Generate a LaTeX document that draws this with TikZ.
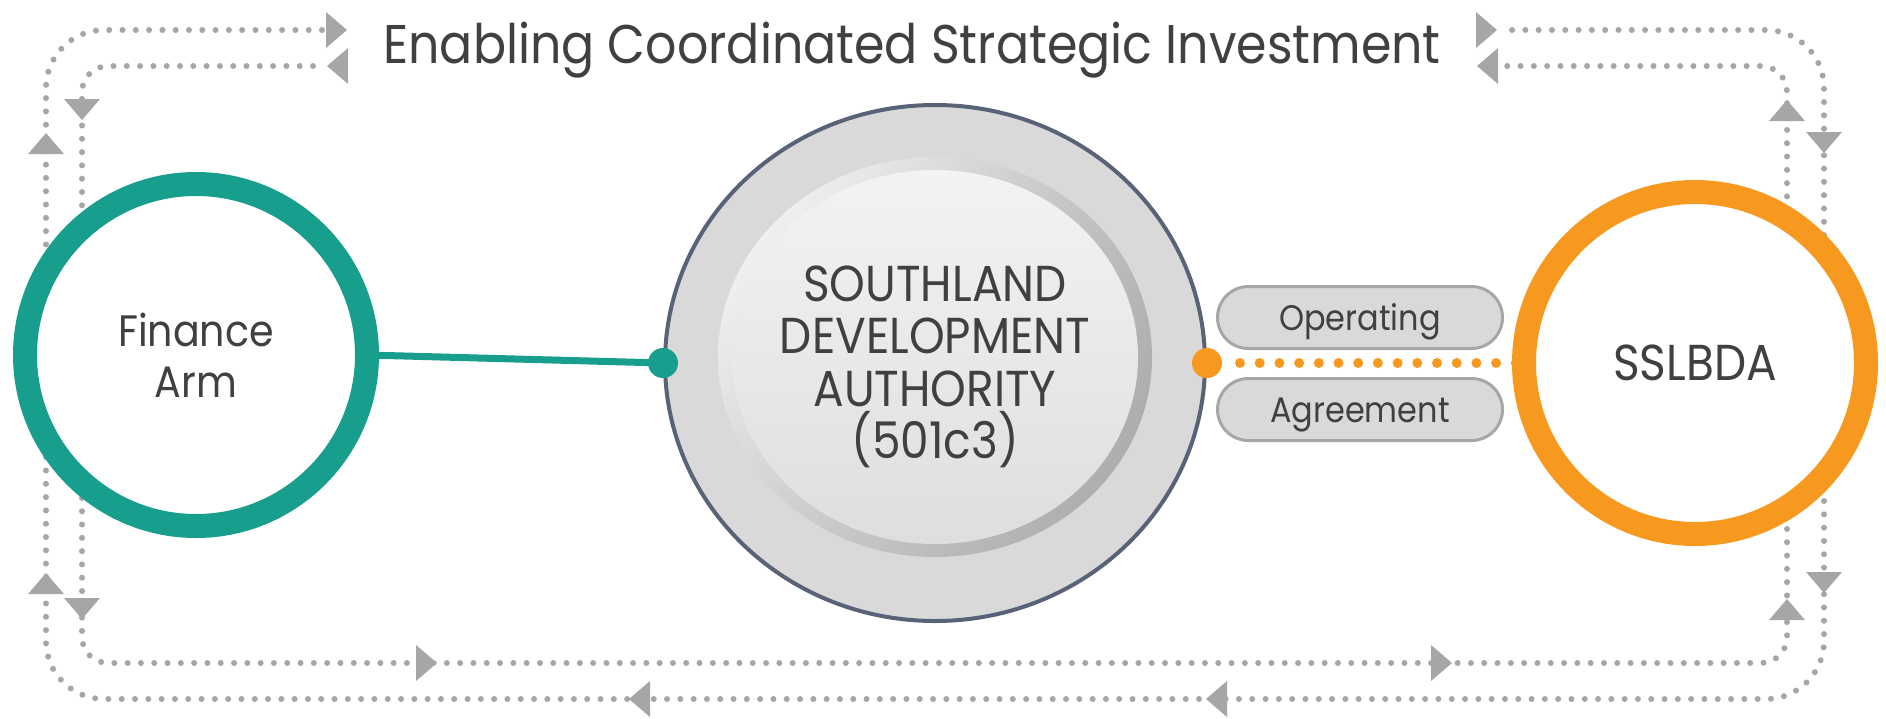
\documentclass[tikz,border=0pt]{standalone}
\usepackage{fontspec}
\setmainfont{Poppins}[FakeStretch=0.9]
\usetikzlibrary{shapes.geometric,shadings}
\definecolor{tealc}{HTML}{179E8D}
\definecolor{orangec}{HTML}{F7991F}
\definecolor{arrowgray}{HTML}{A6A6A6}
\definecolor{txt}{HTML}{404040}
\definecolor{rimblue}{HTML}{596378}
\definecolor{disc}{HTML}{D9D9D9}
\definecolor{bevUR}{HTML}{BCBCBC}
\definecolor{bevLL}{HTML}{D2D2D2}
\definecolor{bevLR}{HTML}{A4A4A4}
\definecolor{faceT}{HTML}{F3F3F3}
\definecolor{faceB}{HTML}{DEDEDE}
\tikzset{
  loopline/.style={draw=arrowgray, line width=6pt, line cap=round, dash pattern=on 0pt off 13.3pt},
  ringnode/.style={circle, line width=24pt, fill=white, inner sep=0pt, outer sep=0pt, minimum size=342pt, align=center, text=txt},
  pillbox/.style={draw=arrowgray, line width=3pt, fill=disc, rounded corners=31pt, minimum width=285pt, minimum height=62pt, inner sep=0pt, text=txt, font=\fontsize{35.5}{40}\selectfont, text height=25pt, text depth=0pt},
  dotnode/.style={circle, inner sep=0pt, minimum size=30pt},
  tri r/.pic={\fill[arrowgray] (-21,-18) -- (0,0) -- (-21,18) -- cycle;},
  tri l/.pic={\fill[arrowgray] (21,-18) -- (0,0) -- (21,18) -- cycle;},
  tri u/.pic={\fill[arrowgray] (-18,21) -- (0,0) -- (18,21) -- cycle;},
  tri d/.pic={\fill[arrowgray] (-18,-21) -- (0,0) -- (18,-21) -- cycle;},
}
\begin{document}
\begin{tikzpicture}[x=1pt, y=-1pt]
\useasboundingbox (0,0) rectangle (1886,718);
% dotted loops
\draw[loopline, rounded corners=58] (322,30) -- (46,30) -- (46,699) -- (1824,699) -- (1824,30) -- (1500,30);
\draw[loopline, rounded corners=26] (313,66) -- (82,66) -- (82,663) -- (1787,663) -- (1787,66) -- (1500,66);
% arrowheads outer loop
\pic at (347,30) {tri r};
\pic at (46,133) {tri u};
\pic at (46,573) {tri u};
\pic at (1497,30) {tri r};
\pic at (1824,153) {tri d};
\pic at (1824,593) {tri d};
\pic at (629,699) {tri l};
\pic at (1206,699) {tri l};
% arrowheads inner loop
\pic at (327,66) {tri l};
\pic at (82,120) {tri d};
\pic at (82,619) {tri d};
\pic at (437,663) {tri r};
\pic at (1452,663) {tri r};
\pic at (1787,100) {tri u};
\pic at (1787,599) {tri u};
\pic at (1477,66) {tri l};
% title
\node[anchor=base, text=txt, font=\fontsize{54.5}{60}\selectfont, inner sep=0pt] (title) at (912,63) {Enabling Coordinated Strategic Investment};
% side circles
\node[ringnode, draw=tealc, font=\fontsize{44}{51}\selectfont] (fin) at (196,355) {Finance\\Arm};
\node[ringnode, draw=orangec, font=\fontsize{50.5}{52}\selectfont] (ssl) at (1695,363) {SSLBDA};
% central disc
\node[ellipse, draw=rimblue, line width=4pt, fill=disc, minimum width=540pt, minimum height=516pt, inner sep=0pt] (sda) at (935,363) {};
\shade[upper left=white, upper right=bevUR, lower left=bevLL, lower right=bevLR] (935,357) ellipse [x radius=217, y radius=200];
\shade[top color=faceT, bottom color=faceB] (935,357) ellipse [x radius=203, y radius=187];
\node[align=center, text=txt, font=\fontsize{50.5}{52.5}\selectfont, inner sep=0pt] (sdatext) at (935,367) {SOUTHLAND\\DEVELOPMENT\\AUTHORITY\\(501c3)};
% connectors
\node[dotnode, fill=tealc] (tdot) at (sda.west) {};
\node[dotnode, fill=orangec] (odot) at (sda.east) {};
\draw[tealc, line width=7pt] (fin.east) -- (tdot.center);
\node[pillbox] (op) at (1360,317.5) {Operating};
\node[pillbox] (ag) at (1360,409.5) {Agreement};
\draw[orangec, line width=10pt, line cap=round, dash pattern=on 0pt off 19.7pt, shorten <=33pt] (odot.center) -- (ssl.west);
\end{tikzpicture}
\end{document}
